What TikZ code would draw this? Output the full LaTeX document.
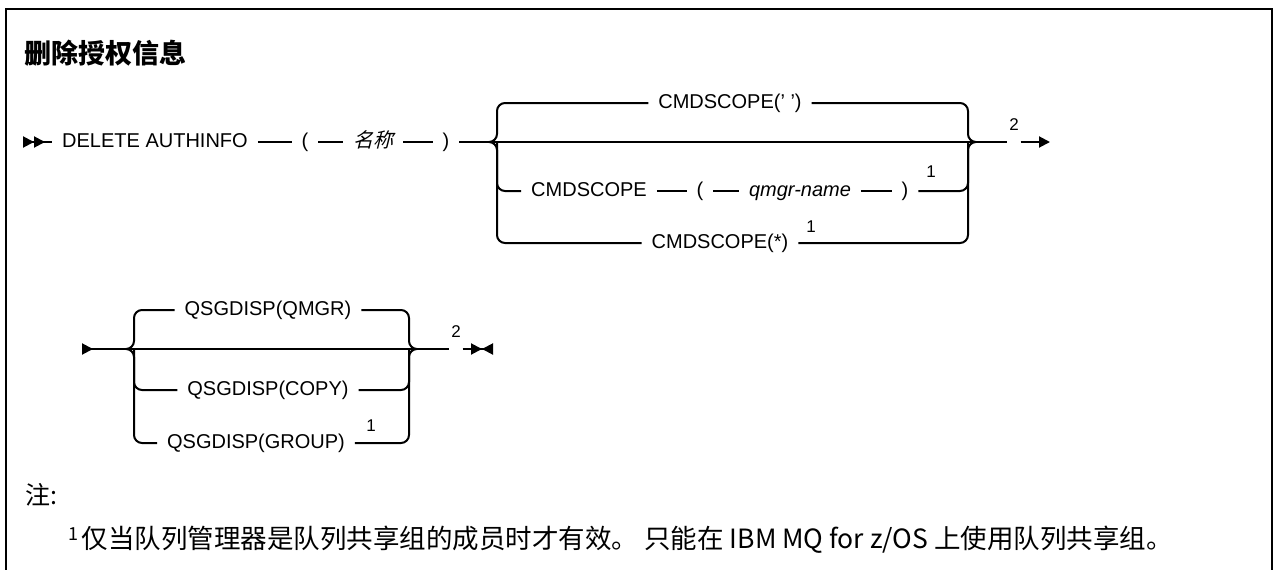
\documentclass[tikz,border=0pt]{standalone}
\usepackage{fontspec}
\setmainfont{Liberation Sans}
\newfontfamily\cjk{Noto Sans CJK SC}
\newfontfamily\cjkit[FakeSlant=0.25]{Noto Sans CJK SC}
\usetikzlibrary{arrows.meta}

\begin{document}
\begin{tikzpicture}[x=1pt, y=-1pt, line width=2pt,
  >={Triangle[length=11pt, width=11pt]},
  every node/.style={font=\fontsize{20}{24}\selectfont, inner sep=0pt},
  kw/.style={inner xsep=9pt, text height=14pt, text depth=4pt},
  fnote/.style={font=\fontsize{17}{20}\selectfont, inner xsep=1pt},
  rail/.style={rounded corners=8pt}]
\useasboundingbox (0,0) rectangle (1274,570);
% frame, open at the bottom
\draw[line width=2.4pt] (6,572) -- (6,9) -- (1272,9) -- (1272,572);
\node[anchor=west, font=\cjk\bfseries\fontsize{27}{31}\selectfont] (title) at (23,53) {删除授权信息};
% first rail: DELETE AUTHINFO
\coordinate (st1) at (23,142);
\node[kw] (del) at (155,142) {DELETE AUTHINFO};
\node[kw] (lpa) at (305,142) {(};
\node[kw, font=\cjkit\fontsize{20}{24}\selectfont] (nam) at (373,142) {名称};
\node[kw] (rpa) at (446,142) {)};
\coordinate (lc1) at (497,142);
\coordinate (rc1) at (968,142);
\node[kw] (cs0) at (730,103) {CMDSCOPE(' ')};
\node[kw] (cs1) at (589,191) {CMDSCOPE};
\node[kw] (lpb) at (700,191) {(};
\node[kw, font=\itshape\fontsize{20}{24}\selectfont] (qmn) at (800,191) {qmgr-name};
\node[kw] (rpb) at (905,191) {)};
\node[fnote] (f1a) at (931,172) {1};
\node[kw] (cs2) at (720,243) {CMDSCOPE(*)};
\node[fnote] (f1b) at (811,227) {1};
\node[fnote] (f2a) at (1014,125) {2};
\coordinate (end1) at (1050,142);
\draw[{>>}-] (st1) -- (del);
\draw (del) -- (lpa) (lpa) -- (nam) (nam) -- (rpa);
\draw (rpa) -- (f2a.west |- rc1);
\draw[->] (f2a.east |- rc1) -- (end1);
% left join
\draw[rail] (cs0.west) -- (cs0.west -| lc1) -- (lc1) -- ([xshift=-8pt]lc1);
\draw[rail] ([xshift=-8pt]lc1) -- (lc1) -- (lc1 |- cs2) -- (cs2.west);
\draw[rail] (lc1) -- (lc1 |- cs1) -- (cs1.west);
% right join
\draw[rail] (cs0.east) -- (cs0.east -| rc1) -- (rc1) -- ([xshift=8pt]rc1);
\draw[rail] (cs2.east) -- (cs2.east -| rc1) -- (rc1) -- ([xshift=8pt]rc1);
\draw[rail] (rpb.east) -- (rpb.east -| rc1) -- (rc1);
\draw (cs1) -- (lpb) (lpb) -- (qmn) (qmn) -- (rpb);
% second rail: QSGDISP
\coordinate (st2) at (82,349);
\coordinate (lc2) at (134,349);
\coordinate (rc2) at (409,349);
\node[kw] (qs0) at (268,310) {QSGDISP(QMGR)};
\node[kw] (qs1) at (268,390) {QSGDISP(COPY)};
\node[kw] (qs2) at (256,443) {QSGDISP(GROUP)};
\node[fnote] (f1c) at (371,426) {1};
\node[fnote] (f2b) at (456,332) {2};
\coordinate (end2) at (493,349);
\draw[{>}-] (st2) -- (f2b.west |- rc2);
\draw[-{>>[reversed]}] (f2b.east |- rc2) -- (end2);
\draw[rail] (qs0.west) -- (qs0.west -| lc2) -- (lc2) -- ([xshift=-8pt]lc2);
\draw[rail] ([xshift=-8pt]lc2) -- (lc2) -- (lc2 |- qs2) -- (qs2.west);
\draw[rail] (lc2) -- (lc2 |- qs1) -- (qs1.west);
\draw[rail] (qs0.east) -- (qs0.east -| rc2) -- (rc2) -- ([xshift=8pt]rc2);
\draw[rail] (qs2.east) -- (qs2.east -| rc2) -- (rc2) -- ([xshift=8pt]rc2);
\draw[rail] (qs1.east) -- (qs1.east -| rc2) -- (rc2);
% notes
\node[anchor=west, font=\cjk\fontsize{25}{29}\selectfont] (zhu) at (24,495) {注:};
\node[anchor=west, font=\cjk\fontsize{26.5}{30}\selectfont] (fn1) at (67,540)
  {\raisebox{8pt}{\fontsize{18}{21}\selectfont 1}\hspace{4pt}仅当队列管理器是队列共享组的成员时才有效。 只能在 IBM MQ for z/OS 上使用队列共享组。};
\end{tikzpicture}
\end{document}
